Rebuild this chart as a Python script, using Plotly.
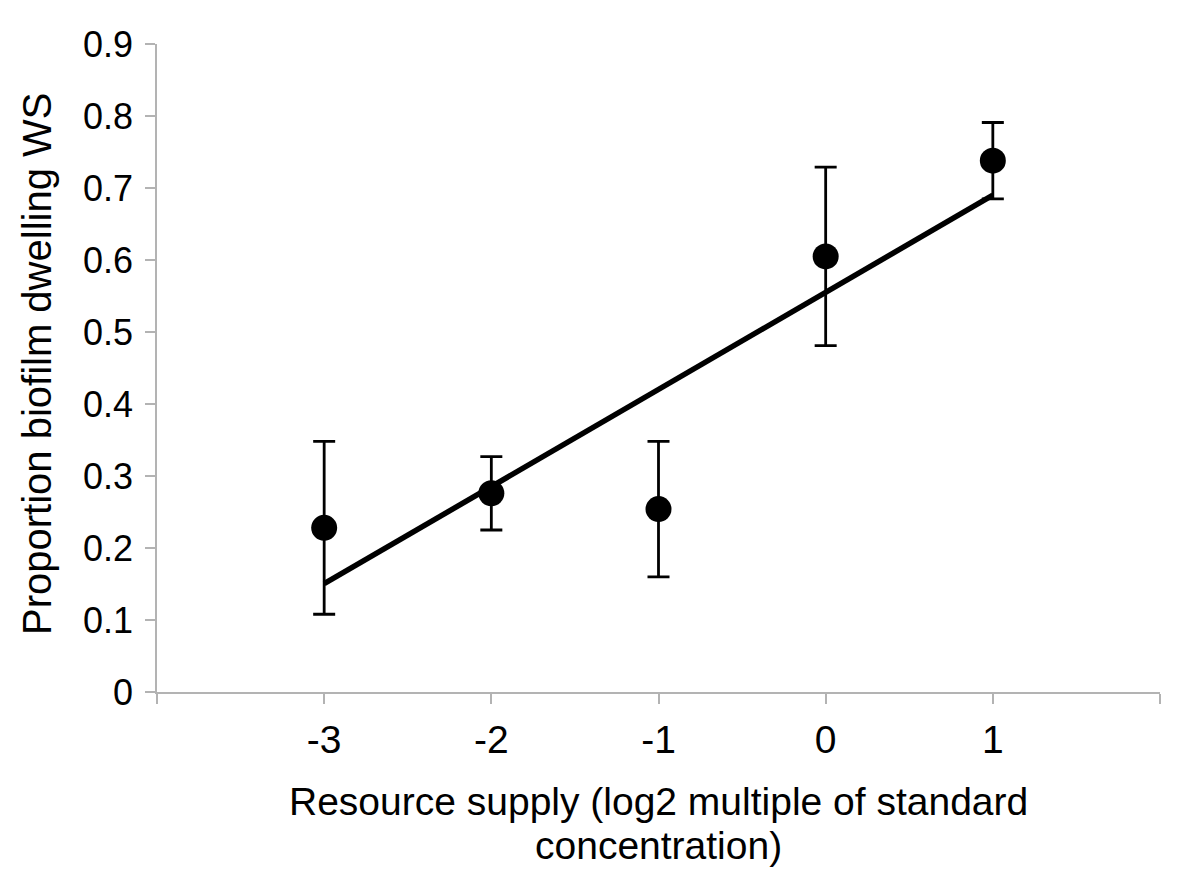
import numpy as np
import plotly.graph_objects as go

x_vals = [-3, -2, -1, 0, 1]
y_vals = [0.228, 0.276, 0.254, 0.605, 0.738]
y_err = [0.120, 0.051, 0.094, 0.124, 0.053]

x_ticks = [-4, -3, -2, -1, 0, 1, 2]
x_ticktext = ["", "-3", "-2", "-1", "0", "1", ""]
y_ticks = [0, 0.1, 0.2, 0.3, 0.4, 0.5, 0.6, 0.7, 0.8, 0.9]
y_ticktext = ["0", "0.1", "0.2", "0.3", "0.4", "0.5", "0.6", "0.7", "0.8", "0.9"]

x_title_lines = ["Resource supply (log2 multiple of standard", "concentration)"]
y_title = "Proportion biofilm dwelling WS"

slope, intercept = np.polyfit(x_vals, y_vals, 1)
fit_x = [min(x_vals), max(x_vals)]
fit_y = [slope * v + intercept for v in fit_x]

FONT = "Liberation Sans, Arial, Helvetica, sans-serif"
AXIS_COLOR = "#b3b3b3"

fig = go.Figure()
fig.add_trace(go.Scatter(
    x=x_vals, y=y_vals, mode="markers",
    marker=dict(size=26, color="black"),
    error_y=dict(type="data", array=y_err, visible=True, color="black",
                 thickness=2.8, width=11),
    showlegend=False,
))
fig.add_trace(go.Scatter(
    x=fit_x, y=fit_y, mode="lines",
    line=dict(color="black", width=5.5),
    showlegend=False,
))

fig.update_layout(
    width=1200, height=870,
    paper_bgcolor="white", plot_bgcolor="white",
    margin=dict(l=149, r=48, t=36, b=186),
    font=dict(family=FONT, size=39, color="black"),
)
fig.update_xaxes(
    range=[-4, 2], tickmode="array", tickvals=x_ticks, ticktext=x_ticktext,
    showgrid=False, zeroline=False, showline=True, linecolor=AXIS_COLOR, linewidth=1.5,
    ticks="outside", ticklen=10, tickcolor=AXIS_COLOR, tickwidth=1.5,
    tickfont=dict(size=39, family=FONT, color="black"), ticklabelstandoff=2,
)
fig.update_yaxes(
    range=[0, 0.9], tickmode="array", tickvals=y_ticks, ticktext=y_ticktext,
    showgrid=False, zeroline=False, showline=True, linecolor=AXIS_COLOR, linewidth=1.5,
    ticks="outside", ticklen=10, tickcolor=AXIS_COLOR, tickwidth=1.5,
    tickfont=dict(size=36, family=FONT, color="black"), ticklabelstandoff=5,
)

fig.add_annotation(text=x_title_lines[0], xref="paper", yref="paper", x=0.5, y=0,
                   xanchor="center", yanchor="middle", yshift=-109, showarrow=False,
                   font=dict(size=39, family=FONT, color="black"))
fig.add_annotation(text=x_title_lines[1], xref="paper", yref="paper", x=0.5, y=0,
                   xanchor="center", yanchor="middle", yshift=-153, showarrow=False,
                   font=dict(size=39, family=FONT, color="black"))
fig.add_annotation(text=y_title, xref="paper", yref="paper", x=0, y=0.5,
                   xanchor="center", yanchor="middle", xshift=-120, yshift=4,
                   textangle=-90, showarrow=False,
                   font=dict(size=40, family=FONT, color="black"))

fig.write_html("out.html")
